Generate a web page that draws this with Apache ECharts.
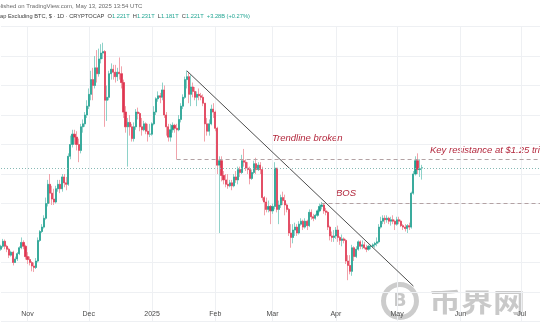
<!DOCTYPE html>
<html>
<head>
<meta charset="utf-8">
<script src="https://cdn.jsdelivr.net/npm/echarts@6/dist/echarts.min.js"></script>
<style>
  html, body { margin: 0; padding: 0; background: #ffffff; }
  #chart { width: 540px; height: 336px; }
</style>
</head>
<body>
<div id="chart"></div>
<script>
// Crypto total market cap excluding BTC, daily candles, values in trillions USD.
// Each row is [close, low, high]; a day's open is the previous day's close.
const startDate = '2024-10-19';
const firstOpen = 0.945;

const oct = [
  [0.955,0.940,0.960],[0.972,0.950,0.980],[0.955,0.945,0.978],[0.945,0.935,0.960],[0.925,0.915,0.950],
  [0.935,0.920,0.940],[0.900,0.890,0.940],[0.912,0.900,0.920],[0.930,0.905,0.935],[0.950,0.925,0.955],
  [0.968,0.945,0.985],[0.955,0.945,0.975],[0.920,0.910,0.960]
];
const nov = [
  [0.910,0.895,0.935],[0.900,0.890,0.920],[0.888,0.870,0.905],[0.883,0.868,0.900],[0.905,0.878,0.915],
  [0.975,0.900,0.985],[1.005,0.970,1.010],[1.020,1.000,1.030],[1.050,1.015,1.060],[1.100,1.045,1.120],
  [1.165,1.090,1.180],[1.135,1.100,1.200],[1.115,1.095,1.160],[1.105,1.095,1.150],[1.150,1.100,1.160],
  [1.165,1.140,1.180],[1.150,1.135,1.180],[1.190,1.140,1.200],[1.170,1.155,1.200],[1.165,1.145,1.190],
  [1.260,1.160,1.270],[1.300,1.250,1.330],[1.335,1.290,1.350],[1.325,1.300,1.350],[1.300,1.280,1.345],
  [1.280,1.240,1.320],[1.360,1.270,1.370],[1.370,1.340,1.385],[1.400,1.360,1.410],[1.430,1.390,1.450]
];
const dec = [
  [1.470,1.420,1.490],[1.520,1.450,1.550],[1.500,1.450,1.560],[1.560,1.490,1.600],[1.540,1.510,1.620],
  [1.590,1.530,1.625],[1.610,1.575,1.640],[1.615,1.590,1.645],[1.450,1.360,1.620],[1.460,1.380,1.500],
  [1.540,1.450,1.550],[1.555,1.520,1.575],[1.545,1.520,1.570],[1.530,1.510,1.570],[1.545,1.515,1.560],
  [1.540,1.520,1.595],[1.510,1.490,1.565],[1.410,1.390,1.520],[1.360,1.340,1.430],[1.375,1.225,1.390],
  [1.360,1.330,1.400],[1.320,1.310,1.370],[1.360,1.310,1.375],[1.410,1.350,1.420],[1.405,1.385,1.425],
  [1.360,1.345,1.410],[1.350,1.330,1.390],[1.370,1.345,1.380],[1.345,1.335,1.375],[1.335,1.310,1.370],
  [1.335,1.325,1.370]
];
const jan = [
  [1.370,1.330,1.375],[1.410,1.365,1.430],[1.455,1.400,1.460],[1.465,1.445,1.480],[1.460,1.440,1.475],
  [1.485,1.450,1.510],[1.400,1.390,1.500],[1.360,1.330,1.410],[1.325,1.310,1.370],[1.350,1.310,1.370],
  [1.365,1.340,1.375],[1.355,1.340,1.370],[1.350,1.250,1.370],[1.385,1.345,1.400],[1.430,1.375,1.440],
  [1.460,1.420,1.470],[1.520,1.455,1.530],[1.530,1.490,1.550],[1.470,1.440,1.545],[1.495,1.430,1.535],
  [1.480,1.460,1.510],[1.460,1.450,1.495],[1.470,1.430,1.480],[1.465,1.450,1.490],[1.460,1.450,1.475],
  [1.440,1.430,1.470],[1.370,1.310,1.440],[1.345,1.330,1.390],[1.370,1.330,1.385],[1.420,1.365,1.435],
  [1.410,1.390,1.440]
];
const feb = [
  [1.355,1.345,1.415],[1.230,1.200,1.360],[1.245,1.000,1.260],[1.195,1.175,1.260],[1.180,1.165,1.210],
  [1.165,1.155,1.200],[1.160,1.150,1.200],[1.170,1.155,1.180],[1.160,1.145,1.180],[1.190,1.155,1.200],
  [1.180,1.170,1.210],[1.215,1.165,1.225],[1.205,1.190,1.225],[1.245,1.200,1.265],[1.240,1.225,1.285],
  [1.220,1.210,1.250],[1.215,1.200,1.240],[1.185,1.165,1.225],[1.205,1.180,1.215],[1.235,1.200,1.245],
  [1.215,1.200,1.255],[1.230,1.210,1.240],[1.215,1.200,1.240],[1.120,1.110,1.225],[1.105,1.060,1.125],
  [1.080,1.070,1.120],[1.090,1.070,1.110],[1.075,1.030,1.095]
];
const mar = [
  [1.090,1.065,1.100],[1.220,1.080,1.240],[1.080,1.070,1.220],[1.095,1.030,1.110],[1.120,1.085,1.130],
  [1.110,1.095,1.140],[1.095,1.060,1.130],[1.080,1.070,1.100],[1.000,0.990,1.085],[0.985,0.950,1.030],
  [1.010,0.965,1.030],[1.020,0.990,1.035],[1.000,0.990,1.030],[1.030,0.995,1.040],[1.040,1.025,1.050],
  [1.020,1.010,1.045],[1.040,1.015,1.050],[1.025,1.010,1.045],[1.070,1.020,1.080],[1.055,1.045,1.080],
  [1.050,1.040,1.065],[1.060,1.045,1.065],[1.075,1.055,1.080],[1.090,1.070,1.100],[1.095,1.080,1.105],
  [1.075,1.065,1.100],[1.070,1.060,1.085],[1.020,1.010,1.075],[0.990,0.975,1.025],[0.985,0.970,1.005],
  [0.990,0.970,1.010]
];
const apr = [
  [1.010,0.980,1.020],[0.985,0.970,1.025],[0.975,0.960,0.990],[0.980,0.955,0.995],[0.975,0.965,0.985],
  [0.905,0.895,0.980],[0.890,0.840,0.925],[0.870,0.860,0.925],[0.950,0.855,0.960],[0.920,0.905,0.955],
  [0.945,0.915,0.955],[0.970,0.940,0.975],[0.955,0.945,0.975],[0.960,0.945,0.975],[0.950,0.945,0.970],
  [0.945,0.935,0.960],[0.955,0.940,0.960],[0.955,0.945,0.960],[0.960,0.950,0.965],[0.965,0.950,0.970],
  [0.970,0.955,0.985],[1.020,0.965,1.030],[1.040,1.015,1.055],[1.050,1.030,1.060],[1.045,1.030,1.060],
  [1.050,1.035,1.060],[1.040,1.030,1.055],[1.045,1.025,1.055],[1.040,1.030,1.060],[1.030,1.010,1.045]
];
const may = [
  [1.045,1.025,1.055],[1.040,1.030,1.055],[1.025,1.020,1.045],[1.020,1.010,1.030],[1.015,1.005,1.030],
  [1.025,1.000,1.030],[1.020,1.010,1.035],[1.135,1.015,1.140],[1.200,1.130,1.210],[1.245,1.195,1.260],
  [1.215,1.200,1.270],[1.2177,1.190,1.250]
];
// Latest session, as shown in the header
const lastBar = { o: 1.221, h: 1.231, l: 1.181, c: 1.221 };
const lastChange = '+3.28B (+0.27%)';

// Annotation levels (trillions)
const keyResistance = 1.25;
const bosLevel = 1.10;
const trendStart = ['2025-01-18', 1.55];
const trendEnd = ['2025-05-09', 0.82];

// Time-scale tick labels: January shows the year
const monthNames = ['2025','Feb','Mar','Apr','May','Jun','Jul','Aug','Sep','Oct','Nov','Dec'];
const totalDays = 265;

// Build date categories
function dayString(d) {
  return d.toISOString().slice(0, 10);
}
const categories = [];
const base = new Date(startDate + 'T00:00:00Z');
for (let i = 0; i < totalDays; i++) {
  categories.push(dayString(new Date(base.getTime() + i * 86400000)));
}

// OHLC rows: [open, close, low, high]
const rows = [].concat(oct, nov, dec, jan, feb, mar, apr, may);
const ohlc = [];
let prev = firstOpen;
rows.forEach(r => {
  const o = prev, c = r[0];
  ohlc.push([o, c, Math.min(r[1], o, c), Math.max(r[2], o, c)]);
  prev = c;
});
ohlc.push([lastBar.o, lastBar.c, lastBar.l, lastBar.h]);
const bodies = ohlc.map(d => [d[0], d[1], Math.min(d[0], d[1]), Math.max(d[0], d[1])]);
const lastCat = categories[categories.length - 1];

function isMonthStart(i) {
  return categories[i].slice(8, 10) === '01';
}

const chart = echarts.init(document.getElementById('chart'), null, { renderer: 'canvas' });
const font = 'Liberation Sans';
const fmt = v => v.toFixed(3) + 'T';
const noteFont = 'italic 9.5px "' + font + '"';
const headSize = 5.7;

chart.setOption({
  animation: false,
  backgroundColor: '#ffffff',
  grid: { left: 1, right: 0, top: 26.5, bottom: 14.5, containLabel: false },
  xAxis: {
    type: 'category',
    data: categories,
    boundaryGap: false,
    axisLine: { show: false },
    axisTick: { show: false },
    axisLabel: {
      inside: true,
      margin: 4,
      interval: (i) => isMonthStart(i),
      formatter: (v) => monthNames[new Date(v + 'T00:00:00Z').getUTCMonth()],
      color: '#4a4a4a',
      fontSize: 7,
      fontFamily: font
    },
    splitLine: { show: true, interval: (i) => isMonthStart(i), lineStyle: { color: '#eef0f3', width: 1 } }
  },
  yAxis: {
    type: 'value',
    min: 0.7,
    max: 1.7,
    interval: 0.1,
    axisLabel: { show: false },
    axisLine: { show: false },
    axisTick: { show: false },
    splitLine: { show: true, lineStyle: { color: '#eef0f3', width: 1 } }
  },
  series: [
    {
      // wicks
      type: 'candlestick',
      data: ohlc,
      barWidth: 1.6,
      silent: true,
      itemStyle: {
        color: 'rgba(0,0,0,0)', color0: 'rgba(0,0,0,0)',
        borderColor: '#8ed2c9', borderColor0: '#f1a3ab', borderWidth: 1
      }
    },
    {
      // bodies and annotations
      type: 'candlestick',
      data: bodies,
      barWidth: 1.6,
      silent: true,
      itemStyle: {
        color: '#1f9e8e', color0: '#df3550',
        borderColor: '#1f9e8e', borderColor0: '#df3550', borderWidth: 0.5
      },
      markLine: {
        silent: true,
        symbol: 'none',
        label: { show: false },
        animation: false,
        data: [
          [ { coord: trendStart, lineStyle: { color: '#4d4d4d', width: 1, type: 'solid' } }, { coord: trendEnd } ],
          [ { coord: ['2025-01-13', keyResistance], lineStyle: { color: '#b3a2a4', width: 1, type: [4, 3] } }, { coord: [lastCat, keyResistance] } ],
          [ { coord: ['2025-03-25', bosLevel], lineStyle: { color: '#b3a2a4', width: 1, type: [4, 3] } }, { coord: [lastCat, bosLevel] } ],
          { yAxis: lastBar.c, lineStyle: { color: '#86b9b4', width: 1, type: [1, 2] } }
        ]
      }
    }
  ],
  graphic: [
    {
      type: 'text', left: -10, top: 3,
      style: { text: 'Published on TradingView.com, May 13, 2025 13:54 UTC', fill: '#6b6b6b', font: '6px "' + font + '"' }
    },
    {
      type: 'text', left: -55, top: 13,
      style: {
        text: 'Crypto Total Market Cap Excluding BTC, $ · 1D · CRYPTOCAP  {k|O}{v|' + fmt(lastBar.o) + '}  {k|H}{v|' + fmt(lastBar.h) +
              '}  {k|L}{v|' + fmt(lastBar.l) + '}  {k|C}{v|' + fmt(lastBar.c) + '}  {v|' + lastChange + '}',
        fill: '#3b3b3b',
        font: headSize + 'px "' + font + '"',
        rich: {
          k: { fill: '#3b3b3b', fontSize: headSize, fontFamily: font },
          v: { fill: '#22a593', fontSize: headSize, fontFamily: font }
        }
      }
    },
    {
      type: 'text', x: 272, y: 138,
      style: { text: 'Trendline broken', fill: '#b3283d', font: noteFont, textVerticalAlign: 'middle' }
    },
    {
      type: 'text', x: 430, y: 150,
      style: { text: 'Key resistance at $1.25 trillion', fill: '#b3283d', font: noteFont, textVerticalAlign: 'middle' }
    },
    {
      type: 'text', x: 336, y: 193,
      style: { text: 'BOS', fill: '#b3283d', font: noteFont, textVerticalAlign: 'middle' }
    },
    {
      // site mark, bottom right
      type: 'group', x: 400, y: 301,
      children: [
        { type: 'ring', shape: { cx: 0, cy: 0, r: 19, r0: 14 }, style: { fill: 'rgba(170,170,170,0.6)' } },
        { type: 'text', x: 0, y: 1, style: { text: 'B', fill: 'rgba(170,170,170,0.65)', font: 'bold 17px "DejaVu Sans"', textAlign: 'center', textVerticalAlign: 'middle' } }
      ]
    },
    {
      type: 'text', x: 429, y: 302, scaleY: 0.8,
      style: { text: '币界网', fill: 'rgba(165,165,165,0.6)', font: 'bold 32px "Noto Sans CJK SC"', textVerticalAlign: 'middle' }
    }
  ]
});
</script>
</body>
</html>
